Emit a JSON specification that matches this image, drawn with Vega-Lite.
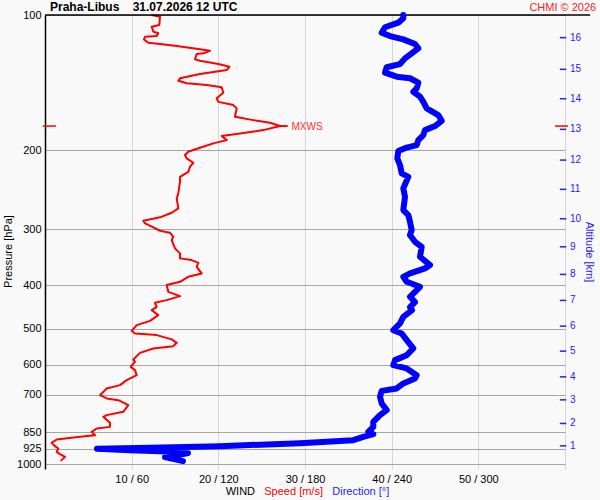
{
  "$schema": "https://vega.github.io/schema/vega-lite/v6.json",
  "width": 520,
  "height": 454,
  "autosize": {"type": "none"},
  "padding": {"left": 45, "top": 15, "right": 35, "bottom": 31},
  "background": "#f9f9f9",
  "config": {"view": {"stroke": null}, "font": "Liberation Sans"},
  "datasets": {
    "speed": [
      {"p":100,"s":12.31},{"p":100.9,"s":13.27},{"p":105.3,"s":13.19},{"p":106.2,"s":12.31},{"p":108.9,"s":12.5},{"p":109.8,"s":13.07},{"p":111.4,"s":12.89},{"p":111.8,"s":11.54},{"p":113.3,"s":11.42},{"p":115.3,"s":11.92},{"p":116,"s":13.27},{"p":117.2,"s":15.2},{"p":119.2,"s":17.88},{"p":120.1,"s":19.04},{"p":121.7,"s":18.27},{"p":122.1,"s":17.5},{"p":125.5,"s":17.31},{"p":126.4,"s":17.88},{"p":128.6,"s":20},{"p":130.4,"s":21.27},{"p":132.6,"s":20.97},{"p":135.3,"s":17.88},{"p":138.3,"s":15.58},{"p":140.1,"s":15.38},{"p":141.9,"s":16.35},{"p":143.2,"s":18.66},{"p":144.9,"s":20.39},{"p":148.9,"s":20.57},{"p":153.3,"s":19.81},{"p":156.1,"s":20},{"p":158.7,"s":21.73},{"p":161.4,"s":22.12},{"p":168.5,"s":21.92},{"p":171.4,"s":24.03},{"p":173.8,"s":25.96},{"p":176.7,"s":27.12},{"p":180.4,"s":25.19},{"p":183.5,"s":22.5},{"p":186,"s":20.39},{"p":189.9,"s":20.97},{"p":193.1,"s":19.42},{"p":197.5,"s":17.88},{"p":201.6,"s":16.53},{"p":205,"s":16.15},{"p":208.6,"s":16.35},{"p":213.3,"s":17.11},{"p":217.7,"s":16.73},{"p":223.4,"s":16.53},{"p":229.2,"s":15.58},{"p":235.1,"s":15.58},{"p":249.5,"s":15.38},{"p":255.9,"s":15.2},{"p":269.4,"s":15.38},{"p":275.6,"s":14.62},{"p":282.1,"s":13.27},{"p":287.1,"s":11.34},{"p":291,"s":11.54},{"p":297,"s":12.5},{"p":302.2,"s":13.27},{"p":305.3,"s":14.42},{"p":311.7,"s":14.8},{"p":317,"s":14.62},{"p":330.8,"s":15},{"p":339.4,"s":15.58},{"p":348.2,"s":15.58},{"p":351.3,"s":16.93},{"p":356.2,"s":17.69},{"p":363.6,"s":17.5},{"p":376.1,"s":18.08},{"p":382.7,"s":16.53},{"p":392.6,"s":15.58},{"p":399.3,"s":14.04},{"p":413.3,"s":14.23},{"p":422.5,"s":15.58},{"p":431.3,"s":14.04},{"p":437.3,"s":12.69},{"p":446.3,"s":12.89},{"p":454,"s":12.31},{"p":465.8,"s":13.07},{"p":479.6,"s":12.12},{"p":490.3,"s":10.58},{"p":504.8,"s":10},{"p":511.6,"s":10.38},{"p":516,"s":12.89},{"p":527.5,"s":14.62},{"p":536.8,"s":15.2},{"p":546,"s":14.8},{"p":552.5,"s":12.5},{"p":565.1,"s":10.96},{"p":584.5,"s":10.19},{"p":591.8,"s":10.38},{"p":607.2,"s":9.89},{"p":617.5,"s":10.38},{"p":633.5,"s":10.58},{"p":650,"s":9.43},{"p":666.9,"s":8.65},{"p":678.2,"s":7.12},{"p":702,"s":6.35},{"p":713.9,"s":7.12},{"p":720.2,"s":8.46},{"p":738.9,"s":9.61},{"p":764.7,"s":9.03},{"p":777.7,"s":7.12},{"p":784.5,"s":6.73},{"p":809.1,"s":7.5},{"p":825.9,"s":7.5},{"p":832.7,"s":5.97},{"p":847.3,"s":5.39},{"p":861.8,"s":5.77},{"p":869.3,"s":4.04},{"p":881,"s":1.35},{"p":896.5,"s":0.77},{"p":911.8,"s":1.15},{"p":922.6,"s":1.53},{"p":938.8,"s":1.35},{"p":950,"s":1.73},{"p":963.2,"s":2.31},{"p":983.2,"s":1.81}
    ],
    "direction": [
      {"p":100,"d":248.05},{"p":101.7,"d":248.05},{"p":104,"d":244.59},{"p":106.5,"d":235.38},{"p":109.5,"d":233.1},{"p":111.4,"d":238.85},{"p":113.3,"d":248.05},{"p":116,"d":256.15},{"p":118.6,"d":258.44},{"p":121.7,"d":253.87},{"p":124.9,"d":249.23},{"p":128.6,"d":245.77},{"p":130.7,"d":236.56},{"p":134.4,"d":235.38},{"p":137.2,"d":243.48},{"p":138.3,"d":252.69},{"p":141.5,"d":258.44},{"p":145.6,"d":257.33},{"p":148.2,"d":254.98},{"p":152,"d":259.62},{"p":156.1,"d":261.9},{"p":161.4,"d":264.25},{"p":167,"d":272.28},{"p":172,"d":274.64},{"p":176.7,"d":270},{"p":180.4,"d":263.08},{"p":185.1,"d":261.9},{"p":189.9,"d":258.44},{"p":194.8,"d":257.33},{"p":197.3,"d":250.41},{"p":200.9,"d":244.59},{"p":208.6,"d":243.9},{"p":215.8,"d":245.77},{"p":225.2,"d":246.95},{"p":229.2,"d":251.52},{"p":243.2,"d":248.05},{"p":253.9,"d":249.23},{"p":271.8,"d":248.05},{"p":278.8,"d":251.52},{"p":288.6,"d":252.69},{"p":301.1,"d":253.87},{"p":309,"d":252.69},{"p":319.8,"d":256.15},{"p":328.1,"d":260.79},{"p":345.4,"d":259.62},{"p":360.4,"d":266.54},{"p":366.5,"d":263.08},{"p":376.1,"d":252.69},{"p":382.7,"d":248.05},{"p":392.6,"d":250.41},{"p":402.8,"d":259.62},{"p":413.3,"d":256.15},{"p":424,"d":252.69},{"p":435.7,"d":256.15},{"p":447,"d":252.69},{"p":454,"d":254.08},{"p":469.9,"d":248.05},{"p":486,"d":245.77},{"p":503,"d":241.13},{"p":511.6,"d":246.95},{"p":529.4,"d":250.41},{"p":552.5,"d":254.98},{"p":571.8,"d":250.41},{"p":586.6,"d":242.31},{"p":601.9,"d":241.13},{"p":612.2,"d":250.41},{"p":633.5,"d":257.33},{"p":644.4,"d":256.15},{"p":661.1,"d":248.05},{"p":678.2,"d":243.48},{"p":686.7,"d":233.1},{"p":708.1,"d":231.92},{"p":732.5,"d":233.1},{"p":758.1,"d":236.56},{"p":777.7,"d":231.92},{"p":805,"d":227.28},{"p":825.9,"d":227.28},{"p":847.3,"d":223.82},{"p":857.4,"d":227.28},{"p":869.3,"d":220.36},{"p":884.2,"d":213.44},{"p":897.9,"d":176.54},{"p":911.8,"d":121.15},{"p":918.8,"d":72.69},{"p":923.6,"d":36},{"p":930.7,"d":58.85},{"p":935.5,"d":79.62},{"p":945.1,"d":99},{"p":954.9,"d":92.08},{"p":964.7,"d":83.08},{"p":984.7,"d":95.54}
    ],
    "altitude": [
      {"km":1,"p":910.4},{"km":2,"p":811.6},{"km":3,"p":719.1},{"km":4,"p":639.1},{"km":5,"p":560.2},{"km":6,"p":492.8},{"km":7,"p":431.9},{"km":8,"p":378},{"km":9,"p":328.1},{"km":10,"p":284.2},{"km":11,"p":244.4},{"km":12,"p":210.4},{"km":13,"p":179.7},{"km":14,"p":153.6},{"km":15,"p":132.1},{"km":16,"p":112.3}
    ],
    "maxwind": [
      {"p":176.7,"s":27.12,"label":"MXWS"}
    ],
    "one": [{}]
  },
  "layer": [
    {
      "data": {"name": "speed"},
      "mark": {"type": "line", "color": "#ff0000", "strokeWidth": 2, "strokeJoin": "round"},
      "encoding": {
        "x": {"field": "s", "type": "quantitative", "scale": {"domain": [0, 60], "nice": false, "zero": false},
          "axis": {"values": [10, 20, 30, 40, 50, 60], "labelExpr": "datum.value < 60 ? datum.value + ' / ' + datum.value * 6 : ''",
            "title": null, "domain": false, "ticks": false, "grid": true, "gridColor": "#d6d6d6", "gridWidth": 1,
            "labelFontSize": 11, "labelColor": "#000000", "labelPadding": 4, "labelFont": "Liberation Sans", "labelFlush": false}},
        "y": {"field": "p", "type": "quantitative", "scale": {"type": "log", "domain": [100, 1025], "nice": false, "reverse": true},
          "axis": {"orient": "left", "values": [100, 200, 300, 400, 500, 600, 700, 850, 925, 1000], "format": "d", "title": "Pressure [hPa]",
            "grid": true, "gridColor": "#a6a6a6", "gridWidth": 1, "ticks": false, "domain": true, "domainColor": "#000000", "domainWidth": 1.5,
            "labelFontSize": 11, "labelColor": "#000000", "labelPadding": 4, "labelFont": "Liberation Sans", "labelFlush": false, "labelOverlap": false,
            "titleFontSize": 11, "titleFontWeight": "normal", "titleColor": "#000000", "titleFont": "Liberation Sans",
            "titleX": -37, "titleY": 236, "titleAngle": -90, "titleAlign": "center", "titleBaseline": "middle"}},
        "order": {"field": "p", "type": "quantitative"}
      }
    },
    {
      "data": {"name": "maxwind"},
      "mark": {"type": "rule", "color": "#ff0000", "strokeWidth": 2},
      "encoding": {
        "x": {"field": "s", "type": "quantitative", "scale": {"domain": [0, 60], "nice": false, "zero": false}, "axis": null},
        "x2": {"datum": 28.0},
        "y": {"field": "p", "type": "quantitative", "scale": {"type": "log", "domain": [100, 1025], "nice": false, "reverse": true}, "axis": null}
      }
    },
    {
      "data": {"name": "maxwind"},
      "mark": {"type": "text", "color": "#ff3333", "fontSize": 10, "align": "left", "baseline": "middle", "dx": 11.5, "dy": 1, "font": "Liberation Sans"},
      "encoding": {
        "x": {"field": "s", "type": "quantitative", "scale": {"domain": [0, 60], "nice": false, "zero": false}, "axis": null},
        "y": {"field": "p", "type": "quantitative", "scale": {"type": "log", "domain": [100, 1025], "nice": false, "reverse": true}, "axis": null},
        "text": {"field": "label"}
      }
    },
    {
      "data": {"name": "maxwind"},
      "mark": {"type": "rule", "color": "#ff0000", "strokeWidth": 1.5},
      "encoding": {
        "x": {"datum": -0.25, "type": "quantitative", "scale": {"domain": [0, 60], "nice": false, "zero": false}, "axis": null},
        "x2": {"datum": 1.27},
        "y": {"field": "p", "type": "quantitative", "scale": {"type": "log", "domain": [100, 1025], "nice": false, "reverse": true}, "axis": null}
      }
    },
    {
      "data": {"name": "maxwind"},
      "mark": {"type": "rule", "color": "#ff0000", "strokeWidth": 1.5},
      "encoding": {
        "x": {"datum": 58.85, "type": "quantitative", "scale": {"domain": [0, 60], "nice": false, "zero": false}, "axis": null},
        "x2": {"datum": 60.35},
        "y": {"field": "p", "type": "quantitative", "scale": {"type": "log", "domain": [100, 1025], "nice": false, "reverse": true}, "axis": null}
      }
    },
    {
      "data": {"name": "altitude"},
      "mark": {"type": "rule", "color": "#2222ff", "strokeWidth": 1.5},
      "encoding": {
        "x": {"datum": 59.4, "type": "quantitative", "scale": {"domain": [0, 60], "nice": false, "zero": false}, "axis": null},
        "x2": {"datum": 60.15},
        "y": {"field": "p", "type": "quantitative", "scale": {"type": "log", "domain": [100, 1025], "nice": false, "reverse": true}, "axis": null}
      }
    },
    {
      "data": {"name": "altitude"},
      "mark": {"type": "text", "color": "#2222ff", "fontSize": 10, "align": "left", "baseline": "middle", "dx": 5, "font": "Liberation Sans"},
      "encoding": {
        "x": {"datum": 60, "type": "quantitative", "scale": {"domain": [0, 60], "nice": false, "zero": false}, "axis": null},
        "y": {"field": "p", "type": "quantitative", "scale": {"type": "log", "domain": [100, 1025], "nice": false, "reverse": true}, "axis": null},
        "text": {"field": "km"}
      }
    },
    {
      "data": {"name": "one"},
      "mark": {"type": "text", "color": "#2222ff", "fontSize": 11, "angle": 90, "align": "center", "baseline": "middle", "font": "Liberation Sans"},
      "encoding": {
        "x": {"datum": 62.77, "type": "quantitative", "scale": {"domain": [0, 60], "nice": false, "zero": false}, "axis": null},
        "y": {"datum": 337, "type": "quantitative", "scale": {"type": "log", "domain": [100, 1025], "nice": false, "reverse": true}, "axis": null},
        "text": {"value": "Altitude [km]"}
      }
    },
    {
      "data": {"name": "one"},
      "mark": {"type": "rule", "color": "#000000", "strokeWidth": 1.5},
      "encoding": {
        "x": {"datum": 0, "type": "quantitative", "scale": {"domain": [0, 60], "nice": false, "zero": false}, "axis": null},
        "x2": {"datum": 62.9},
        "y": {"datum": 100, "type": "quantitative", "scale": {"type": "log", "domain": [100, 1025], "nice": false, "reverse": true}, "axis": null}
      }
    },
    {
      "data": {"name": "one"},
      "mark": {"type": "text", "color": "#000000", "fontSize": 12, "fontWeight": "bold", "align": "left", "baseline": "alphabetic", "dx": 5, "dy": -4, "font": "Liberation Sans"},
      "encoding": {
        "x": {"datum": 0, "type": "quantitative", "scale": {"domain": [0, 60], "nice": false, "zero": false}, "axis": null},
        "y": {"datum": 100, "type": "quantitative", "scale": {"type": "log", "domain": [100, 1025], "nice": false, "reverse": true}, "axis": null},
        "text": {"value": "Praha-Libus\u00a0\u00a0\u00a0\u00a031.07.2026 12 UTC"}
      }
    },
    {
      "data": {"name": "one"},
      "mark": {"type": "text", "color": "#ff2020", "fontSize": 11, "align": "right", "baseline": "alphabetic", "dy": -4, "font": "Liberation Sans"},
      "encoding": {
        "x": {"datum": 63.6, "type": "quantitative", "scale": {"domain": [0, 60], "nice": false, "zero": false}, "axis": null},
        "y": {"datum": 100, "type": "quantitative", "scale": {"type": "log", "domain": [100, 1025], "nice": false, "reverse": true}, "axis": null},
        "text": {"value": "CHMI © 2026"}
      }
    },
    {
      "data": {"name": "one"},
      "mark": {"type": "text", "color": "#000000", "fontSize": 11, "align": "left", "baseline": "alphabetic", "dy": 26, "font": "Liberation Sans"},
      "encoding": {
        "x": {"datum": 20.85, "type": "quantitative", "scale": {"domain": [0, 60], "nice": false, "zero": false}, "axis": null},
        "y": {"datum": 1025, "type": "quantitative", "scale": {"type": "log", "domain": [100, 1025], "nice": false, "reverse": true}, "axis": null},
        "text": {"value": "WIND"}
      }
    },
    {
      "data": {"name": "one"},
      "mark": {"type": "text", "color": "#ff0000", "fontSize": 11, "align": "left", "baseline": "alphabetic", "dy": 26, "font": "Liberation Sans"},
      "encoding": {
        "x": {"datum": 25.3, "type": "quantitative", "scale": {"domain": [0, 60], "nice": false, "zero": false}, "axis": null},
        "y": {"datum": 1025, "type": "quantitative", "scale": {"type": "log", "domain": [100, 1025], "nice": false, "reverse": true}, "axis": null},
        "text": {"value": "Speed [m/s]"}
      }
    },
    {
      "data": {"name": "one"},
      "mark": {"type": "text", "color": "#2222ff", "fontSize": 11, "align": "left", "baseline": "alphabetic", "dy": 26, "font": "Liberation Sans"},
      "encoding": {
        "x": {"datum": 33.15, "type": "quantitative", "scale": {"domain": [0, 60], "nice": false, "zero": false}, "axis": null},
        "y": {"datum": 1025, "type": "quantitative", "scale": {"type": "log", "domain": [100, 1025], "nice": false, "reverse": true}, "axis": null},
        "text": {"value": "Direction [°]"}
      }
    },
    {
      "data": {"name": "direction"},
      "mark": {"type": "line", "color": "#0000ff", "strokeWidth": 6, "strokeJoin": "round", "strokeCap": "round"},
      "encoding": {
        "x": {"field": "d", "type": "quantitative", "scale": {"domain": [0, 360], "nice": false, "zero": false}, "axis": null},
        "y": {"field": "p", "type": "quantitative", "scale": {"type": "log", "domain": [100, 1025], "nice": false, "reverse": true}, "axis": null},
        "order": {"field": "p", "type": "quantitative"}
      }
    }
  ],
  "resolve": {"scale": {"x": "independent"}, "axis": {"y": "independent"}}
}
